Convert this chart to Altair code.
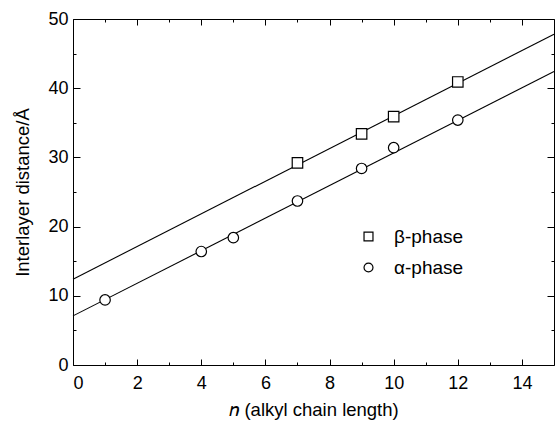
import altair as alt
import pandas as pd

# ---- data ----
beta_n = [7, 9, 10, 12]
beta_d = [29.2, 33.4, 35.9, 40.9]
alpha_n = [1, 4, 5, 7, 9, 10, 12]
alpha_d = [9.4, 16.4, 18.4, 23.7, 28.4, 31.4, 35.4]
fit_n = [0, 15]
beta_fit = [12.4, 47.8]
alpha_fit = [7.1, 42.4]
phases = ["β-phase", "α-phase"]
shapes = ["square", "circle"]
x_major = [0, 2, 4, 6, 8, 10, 12, 14]
x_minor = [1, 3, 5, 7, 9, 11, 13]
y_major = [0, 10, 20, 30, 40, 50]
y_minor = [5, 15, 25, 35, 45]

points = pd.DataFrame(
    {"phase": [phases[0]] * len(beta_n) + [phases[1]] * len(alpha_n),
     "n": beta_n + alpha_n,
     "d": beta_d + alpha_d}
)
fits = pd.DataFrame(
    {"phase": [phases[0]] * 2 + [phases[1]] * 2,
     "n": fit_n + fit_n,
     "d": beta_fit + alpha_fit}
)

W, H = 481, 346
FONT = "Liberation Sans"
xs = alt.Scale(domain=[0, 15], nice=False, zero=False)
ys = alt.Scale(domain=[0, 50], nice=False, zero=False)


def tick_axis(orient, offset, values, size):
    return alt.Axis(orient=orient, offset=offset, values=values, tickSize=size,
                    ticks=True, labels=False, domain=False, grid=False, title=None,
                    tickColor="black", tickWidth=1)


x_lab = alt.Axis(orient="bottom", values=x_major, ticks=False, domain=False, grid=False,
                 labelFont=FONT, labelFontSize=18, labelColor="black", labelPadding=9,
                 format="d", title="𝑛 (alkyl chain length)", titleFont=FONT,
                 titleFontSize=18.5, titleFontWeight="normal", titleColor="black",
                 titlePadding=8)
y_lab = alt.Axis(orient="left", values=y_major, ticks=False, domain=False, grid=False,
                 labelFont=FONT, labelFontSize=18, labelColor="black", labelPadding=5,
                 format="d", title="Interlayer distance/Å", titleFont=FONT,
                 titleFontSize=18.5, titleFontWeight="normal", titleColor="black",
                 titlePadding=15)

lines = alt.Chart(fits).mark_line(color="black", strokeWidth=1.1).encode(
    x=alt.X("n:Q", scale=xs, axis=x_lab),
    y=alt.Y("d:Q", scale=ys, axis=y_lab),
    detail="phase:N",
)

pts = alt.Chart(points).mark_point(filled=False, fill="white", stroke="black",
                                   strokeWidth=1.2, size=110, opacity=1).encode(
    x=alt.X("n:Q", scale=xs, axis=tick_axis("top", -H, x_major, 6)),
    y=alt.Y("d:Q", scale=ys, axis=tick_axis("right", -W, y_major, 7)),
    shape=alt.Shape("phase:N", scale=alt.Scale(domain=phases, range=shapes),
                    legend=alt.Legend(orient="none", legendX=286, legendY=208,
                                      title=None, symbolSize=80,
                                      symbolStrokeWidth=1.2,
                                      labelFont=FONT, labelFontSize=19,
                                      labelColor="black", labelOffset=16,
                                      rowPadding=11, padding=0)),
)


def ghost(xaxis, yaxis):
    return alt.Chart(points).mark_point(size=0, strokeWidth=0).encode(
        x=alt.X("n:Q", scale=xs, axis=xaxis),
        y=alt.Y("d:Q", scale=ys, axis=yaxis),
    )


g1 = ghost(tick_axis("top", -H, x_minor, 3), tick_axis("right", -W, y_minor, 3))
g2 = ghost(tick_axis("bottom", -H, x_major, 6), tick_axis("left", -W, y_major, 7))
g3 = ghost(tick_axis("bottom", -H, x_minor, 3), tick_axis("left", -W, y_minor, 3))

chart = alt.layer(lines, pts, g1, g2, g3).resolve_axis(
    x="independent", y="independent"
).properties(
    width=W, height=H,
    autosize=alt.AutoSizeParams(type="none"),
    padding={"left": 73, "top": 19, "right": 2, "bottom": 56},
    background="white",
).configure_view(stroke="black", strokeWidth=1)

chart.save("out.html", embed_options={"renderer": "svg", "actions": False})
